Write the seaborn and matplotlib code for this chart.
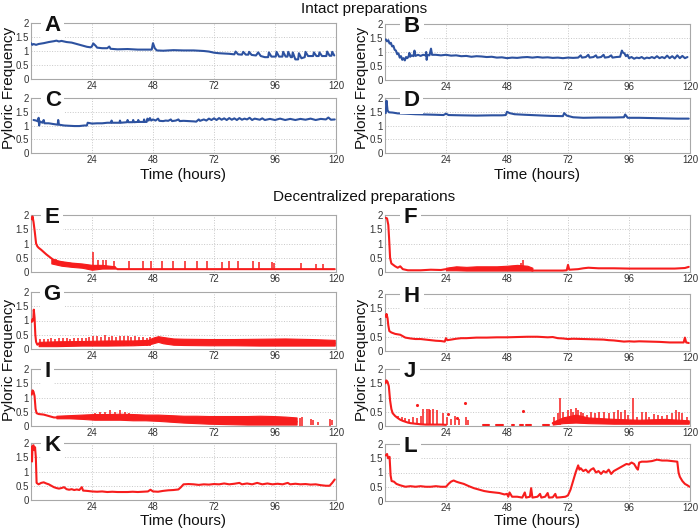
import matplotlib
matplotlib.use("Agg")
import matplotlib.pyplot as plt
import seaborn as sns
import pandas as pd

sns.set_style("white")
plt.rcParams['font.family'] = ['Liberation Sans', 'DejaVu Sans']

BLUE = '#2d52a0'
RED = '#f71d1d'

XTICKS = [24, 48, 72, 96, 120]
YTICKS = [0, 0.5, 1, 1.5, 2]
YTICKLABELS = ['0', '0.5', '1', '1.5', '2']

# ---------------- data (time in hours, pyloric frequency in Hz) ----------------
A_pts = [(0,1.28),(0.5,1.22),(1,1.25),(2,1.22),(3,1.25),(5,1.28),(7,1.32),(9,1.35),(10,1.37),(11,1.34),(12,1.36),
         (14,1.32),(16,1.3),(18,1.25),(20,1.2),(22,1.15),(23.5,1.13),(24,1.17),(24.5,1.27),(25.5,1.18),(26,1.12),
         (28,1.1),(30,1.1),(30.8,1.16),(31.3,1.08),(34,1.06),(38,1.07),(42,1.05),(46,1.05),(47.5,1.05),(48,1.28),
         (48.7,1.1),(49.5,1.02),(52,1.01),(56,1.03),(60,1.02),(64,1.02),(68,1.0),(70,0.98),(72,0.94),(74,0.92),
         (78,0.9),(80,0.88),(80.5,0.98),(81.5,0.88),(83,0.87),(83.5,0.97),(84.5,0.87),(85.5,0.87),(85.8,0.97),
         (86.8,0.86),(88.5,0.84),(89.4,0.95),(90.4,0.82),(92,0.78),(93.3,0.78),(93.6,0.95),(94.6,0.8),(96.3,0.8),
         (96.6,0.97),(97.6,0.8),(98.9,0.8),(99.2,0.97),(100.2,0.8),(100.9,0.8),(101.2,0.97),(102.2,0.78),
         (102.7,0.78),(103,0.95),(104,0.7),(105.1,0.7),(105.4,0.92),(106.4,0.74),(107.7,0.78),(108,0.97),
         (109,0.82),(111,0.82),(111.3,0.95),(112.3,0.82),(113.2,0.82),(113.5,0.95),(114.5,0.82),(116.2,0.82),
         (116.5,0.98),(117.5,0.83),(118.2,0.83),(118.5,0.97),(119.3,0.84)]

B_pts = [(0.3,1.45),(0.8,1.38),(1.3,1.42),(1.8,1.3),(2.3,1.33),(2.8,1.2),(3.3,1.22),(3.8,1.08),(4.3,1.05),
         (4.8,0.92),(5.3,0.95),(5.8,0.8),(6.3,0.85),(6.8,0.72),(7.3,0.78),(7.8,0.7),(8.3,0.82),(8.8,0.78),
         (9.3,0.85),(9.6,0.97),(9.9,0.83),(10.5,0.88),(11.2,0.85),(11.6,1.05),(12,0.86),(13,0.9),(14,0.86),
         (15,0.9),(16,0.88),(16.2,1.0),(16.4,0.72),(16.7,0.9),(17.5,0.88),(18.1,1.12),(18.5,0.9),(20,0.9),
         (22,0.88),(24,0.9),(26,0.87),(28,0.88),(30,0.85),(32,0.86),(34,0.83),(36,0.85),(38,0.84),(40,0.82),
         (42,0.83),(44,0.8),(46,0.81),(48,0.78),(50,0.8),(52,0.79),(54,0.81),(56,0.82),(58,0.8),(60,0.82),
         (62,0.8),(64,0.81),(66,0.79),(68,0.8),(70,0.78),(72,0.8),(74,0.79),(76,0.8),(77,0.88),(77.5,0.8),
         (79,0.82),(80,0.9),(80.5,0.8),(82,0.82),(83,0.88),(83.5,0.8),(85,0.82),(86,0.9),(86.5,0.8),(88,0.82),
         (89,0.88),(89.5,0.8),(91,0.82),(92.5,0.83),(93.2,1.05),(93.6,0.98),(94.2,0.95),(94.8,0.85),(95.4,0.9),
         (96,0.78),(97,0.82),(98,0.76),(99,0.8),(100,0.78),(101,0.82),(102,0.76),(103,0.8),(104,0.78),
         (105,0.82),(106,0.78),(107,0.85),(108,0.78),(109,0.82),(110,0.78),(111,0.87),(112,0.78),(113,0.85),
         (114,0.77),(115,0.88),(116,0.78),(117,0.86),(118,0.78),(119,0.82)]

C_pts = [(1,1.2),(2,1.18),(2.8,1.15),(3,1.28),(3.2,1.0),(3.5,1.15),(4.5,1.1),(5,1.2),(5.3,1.08),(7,1.08),
         (9,1.05),(10.5,1.03),(10.7,1.2),(11,1.03),(13,1.0),(15,0.99),(17,0.98),(19,0.98),(21,1.0),(22,1.0),
         (22.3,1.1),(24,1.07),(26,1.08),(28,1.08),(30,1.1),(31.5,1.1),(31.7,1.18),(32,1.1),(34.8,1.1),
         (35,1.18),(35.3,1.1),(37.8,1.12),(38,1.2),(38.3,1.12),(40,1.12),(40.2,1.2),(40.5,1.12),(42,1.13),
         (42.2,1.2),(42.5,1.13),(44.3,1.13),(44.5,1.22),(44.8,1.13),(45.5,1.13),(45.8,1.25),(46.3,1.18),
         (46.8,1.27),(47.3,1.18),(48,1.22),(49,1.18),(50,1.25),(50.5,1.17),(52,1.16),(53,1.18),(54,1.17),
         (55,1.22),(55.5,1.16),(57,1.18),(58,1.22),(58.5,1.16),(60,1.17),(62,1.16),(64,1.15),(65,1.14),
         (66,1.22),(66.5,1.17),(68,1.22),(69,1.18),(70,1.25),(71,1.2),(72,1.26),(73,1.2),(74,1.27),(75,1.21),
         (76,1.26),(77,1.2),(78,1.27),(79,1.21),(80,1.26),(81,1.2),(82,1.27),(83,1.21),(84,1.25),(85,1.22),
         (86,1.28),(87,1.2),(88,1.25),(90,1.21),(91,1.26),(92,1.2),(94,1.24),(96,1.2),(98,1.25),(100,1.2),
         (102,1.24),(104,1.2),(106,1.24),(108,1.21),(110,1.25),(112,1.2),(114,1.24),(116,1.22),(117,1.29),
         (118,1.21),(119.5,1.22)]

D_pts = [(0.3,1.45),(0.6,1.9),(1,1.55),(1.5,1.48),(3,1.47),(5,1.44),(8,1.43),(12,1.41),(16,1.4),(20,1.39),
         (23,1.38),(24,1.43),(25,1.38),(30,1.37),(36,1.36),(42,1.37),(46,1.37),(47.5,1.38),(48,1.5),(49,1.45),
         (51,1.41),(55,1.39),(60,1.37),(65,1.35),(70,1.34),(70.5,1.45),(71.5,1.36),(74,1.3),(78,1.28),
         (84,1.29),(90,1.29),(94,1.3),(94.5,1.4),(95.5,1.28),(100,1.28),(105,1.27),(110,1.26),(115,1.25),
         (119.5,1.25)]

E_pts = [(0.3,1.85),(0.6,1.95),(1,1.75),(1.5,1.4),(2,1.0),(2.5,0.9),(3,0.85),(4,0.78),(5,0.7),(6,0.62),
         (7,0.55),(8,0.48),(9,0.42),(10,0.38),(12,0.33),(14,0.3),(16,0.28),(18,0.25),(20,0.22),(22,0.2),
         (23.5,0.18),(24,0.1),(26,0.18),(28,0.18),(30,0.16),(32,0.15),(33,0.15),(34,0.1),(40,0.1),(50,0.1),
         (60,0.1),(70,0.1),(80,0.1),(90,0.1),(100,0.1),(110,0.1),(119.5,0.1)]
E_band = [(8,0.3,0.45),(12,0.22,0.38),(16,0.18,0.33),(20,0.15,0.3),(24,0.08,0.25),(28,0.12,0.25),(33,0.12,0.2)]
E_spikes = [(9,0.35,0.47),(10,0.33,0.45),(24.3,0.1,0.7),(26.2,0.15,0.42),(28.2,0.15,0.42),(29.5,0.15,0.42),
            (32.8,0.12,0.38),(38.7,0.1,0.4),(43.9,0.1,0.4),(47.2,0.1,0.4),(51.4,0.1,0.38),(56.0,0.1,0.38),
            (60.7,0.1,0.4),(65.2,0.1,0.4),(69.1,0.1,0.4),(75.1,0.1,0.35),(78.0,0.1,0.38),(81.3,0.1,0.4),
            (87.2,0.1,0.4),(89.8,0.1,0.35),(95.0,0.1,0.35),(95.7,0.1,0.33),(106.2,0.1,0.3),(112.1,0.1,0.28),
            (114.7,0.1,0.28)]

F_pts = [(0.3,1.9),(0.8,1.88),(1.3,1.65),(1.6,1.2),(2,0.5),(2.5,0.3),(4,0.2),(5,0.15),(6,0.2),(7,0.1),
         (9,0.06),(14,0.06),(18,0.08),(22,0.07),(24,0.1),(28,0.12),(32,0.1),(36,0.12),(40,0.1),(44,0.12),
         (48,0.13),(52,0.14),(56,0.12),(58,0.05),(64,0.05),(70,0.05),(71.5,0.06),(72,0.25),(72.5,0.08),
         (76,0.1),(78,0.13),(80,0.15),(84,0.13),(90,0.13),(96,0.12),(102,0.12),(108,0.12),(114,0.12),
         (118,0.14),(119.5,0.18)]
F_band = [(24,0.06,0.15),(28,0.06,0.2),(32,0.05,0.18),(36,0.05,0.2),(44,0.05,0.2),(48,0.05,0.22),
          (52,0.05,0.25),(56,0.05,0.22),(58,0.05,0.15)]
F_spikes = [(53.5,0.1,0.3),(54.3,0.1,0.42)]

G_pts = [(0.3,0.95),(0.6,1.05),(0.9,1.0),(1.1,1.38),(1.4,1.1),(1.7,0.5),(2,0.25),(2.5,0.15),(3,0.18),
         (10,0.17),(20,0.17),(30,0.18),(40,0.18),(48,0.3),(52,0.28),(60,0.22),(80,0.2),(100,0.2),(119.5,0.2)]
G_band = [(3,0.1,0.25),(10,0.1,0.27),(20,0.12,0.28),(30,0.12,0.3),(40,0.13,0.3),(46,0.15,0.32),
          (48,0.2,0.4),(50,0.25,0.45),(52,0.2,0.42),(56,0.15,0.37),(60,0.14,0.36),(70,0.13,0.35),
          (80,0.13,0.35),(90,0.12,0.36),(100,0.12,0.37),(110,0.12,0.35),(119.5,0.12,0.32)]
G_spikes = [(3.5,0.1,0.35),(5,0.1,0.36),(6.5,0.1,0.35),(8,0.1,0.37),(9.5,0.1,0.36),(11,0.1,0.38),
            (12.5,0.1,0.37),(14,0.1,0.38),(15.5,0.1,0.36),(17,0.1,0.39),(18.5,0.1,0.37),(20,0.1,0.4),
            (21.5,0.1,0.37),(23,0.1,0.42),(24.5,0.1,0.47),(26,0.1,0.45),(27.5,0.1,0.42),(29,0.1,0.5),
            (30.5,0.1,0.42),(32,0.1,0.47),(33.5,0.1,0.43),(35,0.1,0.46),(36.5,0.1,0.44),(38,0.1,0.45),
            (39.5,0.1,0.43),(41,0.1,0.44),(42.5,0.1,0.42),(44,0.1,0.43),(45.5,0.1,0.4),(47,0.1,0.42)]

H_pts = [(0.3,1.2),(0.6,1.3),(1,1.15),(1.3,0.9),(1.7,0.7),(2.5,0.65),(4,0.6),(6,0.57),(7,0.52),(8,0.47),
         (10,0.44),(12,0.42),(14,0.42),(16,0.4),(18,0.38),(20,0.36),(22,0.35),(23.5,0.33),(24,0.45),
         (24.5,0.38),(26,0.4),(28,0.43),(30,0.45),(32,0.45),(36,0.47),(40,0.47),(44,0.48),(48,0.48),
         (52,0.49),(56,0.5),(60,0.5),(64,0.48),(66,0.49),(68,0.45),(70,0.44),(72,0.42),(74,0.43),(78,0.42),
         (82,0.41),(86,0.4),(88,0.38),(90,0.37),(92,0.35),(94,0.33),(96,0.34),(98,0.33),(100,0.34),
         (104,0.33),(108,0.32),(112,0.3),(116,0.3),(117.5,0.3),(118,0.47),(118.5,0.3),(119.5,0.28)]

I_pts = [(0.3,1.1),(0.6,1.25),(1,1.2),(1.4,1.05),(1.8,0.6),(2.2,0.45),(3,0.42),(5,0.4),(7,0.35),(9,0.3),
         (10,0.3),(20,0.3),(30,0.3),(40,0.28),(50,0.26),(60,0.22),(70,0.18),(80,0.17),(90,0.16),(100,0.15),
         (104.5,0.15)]
I_band = [(10,0.27,0.36),(15,0.27,0.38),(20,0.25,0.4),(25,0.22,0.42),(30,0.22,0.42),(35,0.22,0.43),
          (40,0.2,0.42),(45,0.2,0.4),(50,0.18,0.4),(55,0.15,0.38),(60,0.12,0.36),(65,0.1,0.36),
          (70,0.08,0.35),(75,0.07,0.35),(80,0.06,0.35),(85,0.05,0.35),(90,0.05,0.36),(95,0.05,0.35),
          (100,0.05,0.33),(104.5,0.05,0.3)]
I_spikes = [(25,0.3,0.45),(27,0.3,0.5),(29,0.3,0.48),(31,0.3,0.55),(33,0.3,0.5),(35,0.3,0.55),
            (37,0.3,0.5),(38.5,0.3,0.45),(106,0.0,0.28),(106.5,0.0,0.3),(110,0.02,0.25),(111,0.05,0.22),
            (113,0.05,0.15),(117.8,0.0,0.25),(118.3,0.05,0.2)]

J_pts = [(0.2,1.5),(0.5,1.6),(1,1.55),(1.5,1.4),(2,0.9),(2.5,0.6),(3,0.45),(4,0.35),(5,0.28),(6,0.22),
         (7,0.18),(8,0.15),(9,0.12),(10,0.1),(12,0.08),(14,0.06),(16,0.05),(18,0.05),(20,0.05),(22,0.05),
         (24,0.04), None,
         (38.5,0.05),(41,0.05), None, (43.8,0.05),(46.4,0.05), None, (49.8,0.05),(50.8,0.05), None,
         (53,0.05),(54.3,0.05), None, (55.6,0.05),(57.6,0.05), None, (62.2,0.05),(64.5,0.05), None,
         (66,0.1),(70,0.15),(75,0.2),(80,0.15),(90,0.12),(100,0.12),(110,0.12),(119.5,0.12)]
J_band = [(66,0.05,0.15),(70,0.1,0.3),(75,0.12,0.4),(80,0.1,0.3),(90,0.08,0.25),(100,0.08,0.22),
          (110,0.08,0.25),(119.5,0.08,0.2)]
J_spikes = [(5,0.25,0.35),(6.5,0.2,0.3),(8,0.15,0.28),(9.5,0.1,0.25),(11,0.08,0.3),(12.5,0.07,0.28),
            (14,0.06,0.35),(15,0.05,0.6),(16.5,0.05,0.6),(17.3,0.05,0.6),(17.8,0.05,0.55),(19,0.05,0.58),
            (20.5,0.05,0.55),(23,0.05,0.45),(24.5,0.04,0.3),(26,0.04,0.25),(27.5,0.04,0.35),(29,0.04,0.25),
            (32,0.04,0.3),(32.5,0.04,0.2),
            (66.5,0.05,0.3),(68,0.05,0.45),(68.9,0.05,1.0),(70,0.1,0.5),(71,0.1,0.3),(72,0.1,0.55),
            (73,0.1,0.6),(74,0.1,0.5),(75,0.1,0.62),(76,0.1,0.55),(77,0.1,0.5),(78,0.1,0.45),(79.5,0.1,0.4),
            (81,0.1,0.5),(82.5,0.1,0.45),(84,0.1,0.5),(86,0.1,0.5),(88,0.1,0.45),(90,0.1,0.5),(91.5,0.1,0.55),
            (93,0.1,0.5),(94.5,0.1,0.55),(95.5,0.1,0.4),(97.5,0.1,0.97),(99,0.1,0.3),(101,0.1,0.5),
            (102.5,0.1,0.5),(104,0.1,0.3),(106,0.1,0.42),(107.5,0.1,0.4),(109,0.1,0.35),(111,0.1,0.4),
            (113,0.1,0.45),(114.5,0.1,0.55),(115.5,0.1,0.5),(117,0.1,0.45),(119,0.1,0.3)]
J_dots = [(12.7,0.74),(24.8,0.41),(28.5,0.27),(31.5,0.8),(54.3,0.54)]

K_pts = [(0.2,1.85),(0.4,1.35),(0.6,1.9),(1,1.92),(1.3,1.75),(1.6,1.85),(1.9,1.5),(2.2,0.6),(3,0.55),
         (4,0.6),(5,0.62),(6,0.58),(7,0.55),(8,0.5),(9,0.45),(10,0.42),(11,0.4),(12,0.42),(13,0.45),
         (14,0.38),(15,0.36),(16,0.38),(17,0.35),(18,0.37),(19,0.35),(20,0.45),(20.5,0.33),(22,0.32),
         (24,0.3),(26,0.29),(28,0.3),(30,0.28),(32,0.29),(34,0.28),(36,0.28),(38,0.28),(40,0.29),(42,0.28),
         (44,0.29),(46,0.3),(47,0.36),(48,0.3),(50,0.29),(52,0.32),(54,0.34),(56,0.35),(58,0.37),(59,0.45),
         (60,0.55),(62,0.56),(64,0.55),(66,0.53),(68,0.55),(70,0.54),(72,0.56),(74,0.55),(76,0.58),(78,0.55),
         (80,0.57),(82,0.6),(83,0.55),(85,0.58),(87,0.55),(89,0.6),(91,0.55),(93,0.58),(95,0.55),(97,0.57),
         (99,0.55),(101,0.6),(102,0.55),(104,0.57),(106,0.55),(108,0.56),(110,0.54),(112,0.55),(114,0.52),
         (116,0.5),(117.5,0.5),(118.5,0.6),(119.5,0.72)]

L_pts = [(0.3,1.6),(0.8,1.65),(1.2,1.5),(1.8,1.55),(2.2,0.9),(2.6,0.7),(3.5,0.68),(4.5,0.6),(6,0.55),
         (8,0.5),(10,0.52),(12,0.5),(14,0.52),(16,0.5),(18,0.5),(20,0.52),(22,0.5),(24,0.5),(25,0.6),
         (26,0.68),(27,0.72),(28,0.68),(29,0.65),(31,0.6),(33,0.52),(35,0.45),(37,0.4),(39,0.35),(41,0.32),
         (43,0.3),(45,0.28),(47,0.23),(48,0.25),(48.5,0.15),(49,0.3),(50,0.15),(52,0.15),(54,0.12),(55,0.3),
         (55.5,0.12),(57,0.15),(57.5,0.45),(58,0.12),(60,0.15),(61,0.25),(61.5,0.12),(63,0.15),(64,0.28),
         (64.5,0.12),(66,0.13),(67,0.25),(67.5,0.12),(69,0.13),(71,0.15),(72,0.2),(73,0.4),(74,0.7),(75,1.0),
         (76,1.25),(76.5,1.1),(77,1.15),(78,1.05),(79,1.1),(80,1.0),(81,1.1),(82,1.15),(83,1.0),(84,1.05),
         (85,0.95),(86,1.05),(87,1.0),(88,1.1),(89,0.95),(90,1.05),(91,1.1),(92,1.15),(93,1.2),(94,1.25),
         (95,1.3),(96,1.28),(97,1.35),(98,1.3),(99,1.15),(99.5,1.1),(100,1.35),(101,1.38),(103,1.38),
         (105,1.4),(107,1.45),(109,1.42),(111,1.42),(113,1.4),(115,1.38),(115.5,1.0),(116,0.85),(117,0.7),
         (118,0.6),(119,0.55),(119.8,0.5)]


# ---------------- helpers ----------------
def to_df(pts):
    rows, seg = [], 0
    for p in pts:
        if p is None:
            seg += 1
        else:
            rows.append((p[0], p[1], seg))
    return pd.DataFrame(rows, columns=['t', 'f', 'seg'])


fig = plt.figure(figsize=(7, 5.28), dpi=100)


def rect(l, r, t, b):
    return [l / 700, 1 - b / 528, (r - l) / 700, (b - t) / 528]


def panel(box, letter, lx, color, pts, band=None, spikes=None, dots=None):
    ax = fig.add_axes(rect(*box))
    if band:
        bt, blo, bhi = zip(*band)
        ax.fill_between(bt, blo, bhi, color=color, lw=0.8, zorder=2)
    if spikes:
        st, slo, shi = zip(*spikes)
        ax.vlines(st, slo, shi, color=color, lw=1.1, zorder=2)
    df = to_df(pts)
    sns.lineplot(data=df, x='t', y='f', units='seg', estimator=None, sort=False,
                 color=color, lw=1.5, ax=ax, legend=False, zorder=3)
    if dots:
        dd = pd.DataFrame(dots, columns=['t', 'f'])
        sns.scatterplot(data=dd, x='t', y='f', color=color, s=5, lw=0, ax=ax, zorder=3)
    ax.set_xlim(0, 120)
    ax.set_ylim(0, 2)
    ax.set_xticks(XTICKS)
    ax.set_yticks(YTICKS)
    ax.set_yticklabels(YTICKLABELS)
    ax.set_xlabel('')
    ax.set_ylabel('')
    ax.grid(True, ls=':', color='#c8c8c8', lw=0.7)
    ax.tick_params(direction='in', length=2.5, width=0.6, colors='#888888', labelcolor='#333333',
                   labelsize=7, pad=1.5)
    for s in ax.spines.values():
        s.set_color('#a8a8a8')
        s.set_linewidth(0.8)
    ax.text(lx, 0.96, letter, transform=ax.transAxes, fontsize=16, fontweight='bold',
            ha='left', va='center', color='#111111', zorder=5,
            bbox=dict(fc='white', ec='none', pad=2.5))
    return ax


LC, RC = (31, 336), (385, 690)
panel((*LC, 23, 79), 'A', 0.045, BLUE, A_pts)
panel((*RC, 24, 80), 'B', 0.062, BLUE, B_pts)
panel((*LC, 98, 153), 'C', 0.045, BLUE, C_pts)
panel((*RC, 98, 153), 'D', 0.062, BLUE, D_pts)
panel((*LC, 215, 272), 'E', 0.045, RED, E_pts, E_band, E_spikes)
panel((*RC, 215, 272), 'F', 0.062, RED, F_pts, F_band, F_spikes)
panel((*LC, 292, 349), 'G', 0.04, RED, G_pts, G_band, G_spikes)
panel((*RC, 294, 351), 'H', 0.062, RED, H_pts)
panel((*LC, 369, 426), 'I', 0.045, RED, I_pts, I_band, I_spikes)
panel((*RC, 369, 426), 'J', 0.062, RED, J_pts, J_band, J_spikes, J_dots)
panel((*LC, 443, 500), 'K', 0.045, RED, K_pts)
panel((*RC, 444, 501), 'L', 0.062, RED, L_pts)


def ftext(x, y, s, **kw):
    fig.text(x / 700, 1 - y / 528, s, ha='center', va='center', color='#111111', **kw)


ftext(364, 9, 'Intact preparations', fontsize=11)
ftext(364, 197, 'Decentralized preparations', fontsize=11)
for x, y in [(9, 88), (362, 88), (9, 360), (362, 360)]:
    ftext(x, y, 'Pyloric Frequency', fontsize=11, rotation=90)
for x, y in [(183, 175), (537, 175), (183, 521), (537, 521)]:
    ftext(x, y, 'Time (hours)', fontsize=11)

fig.savefig('out.png', dpi=100)
